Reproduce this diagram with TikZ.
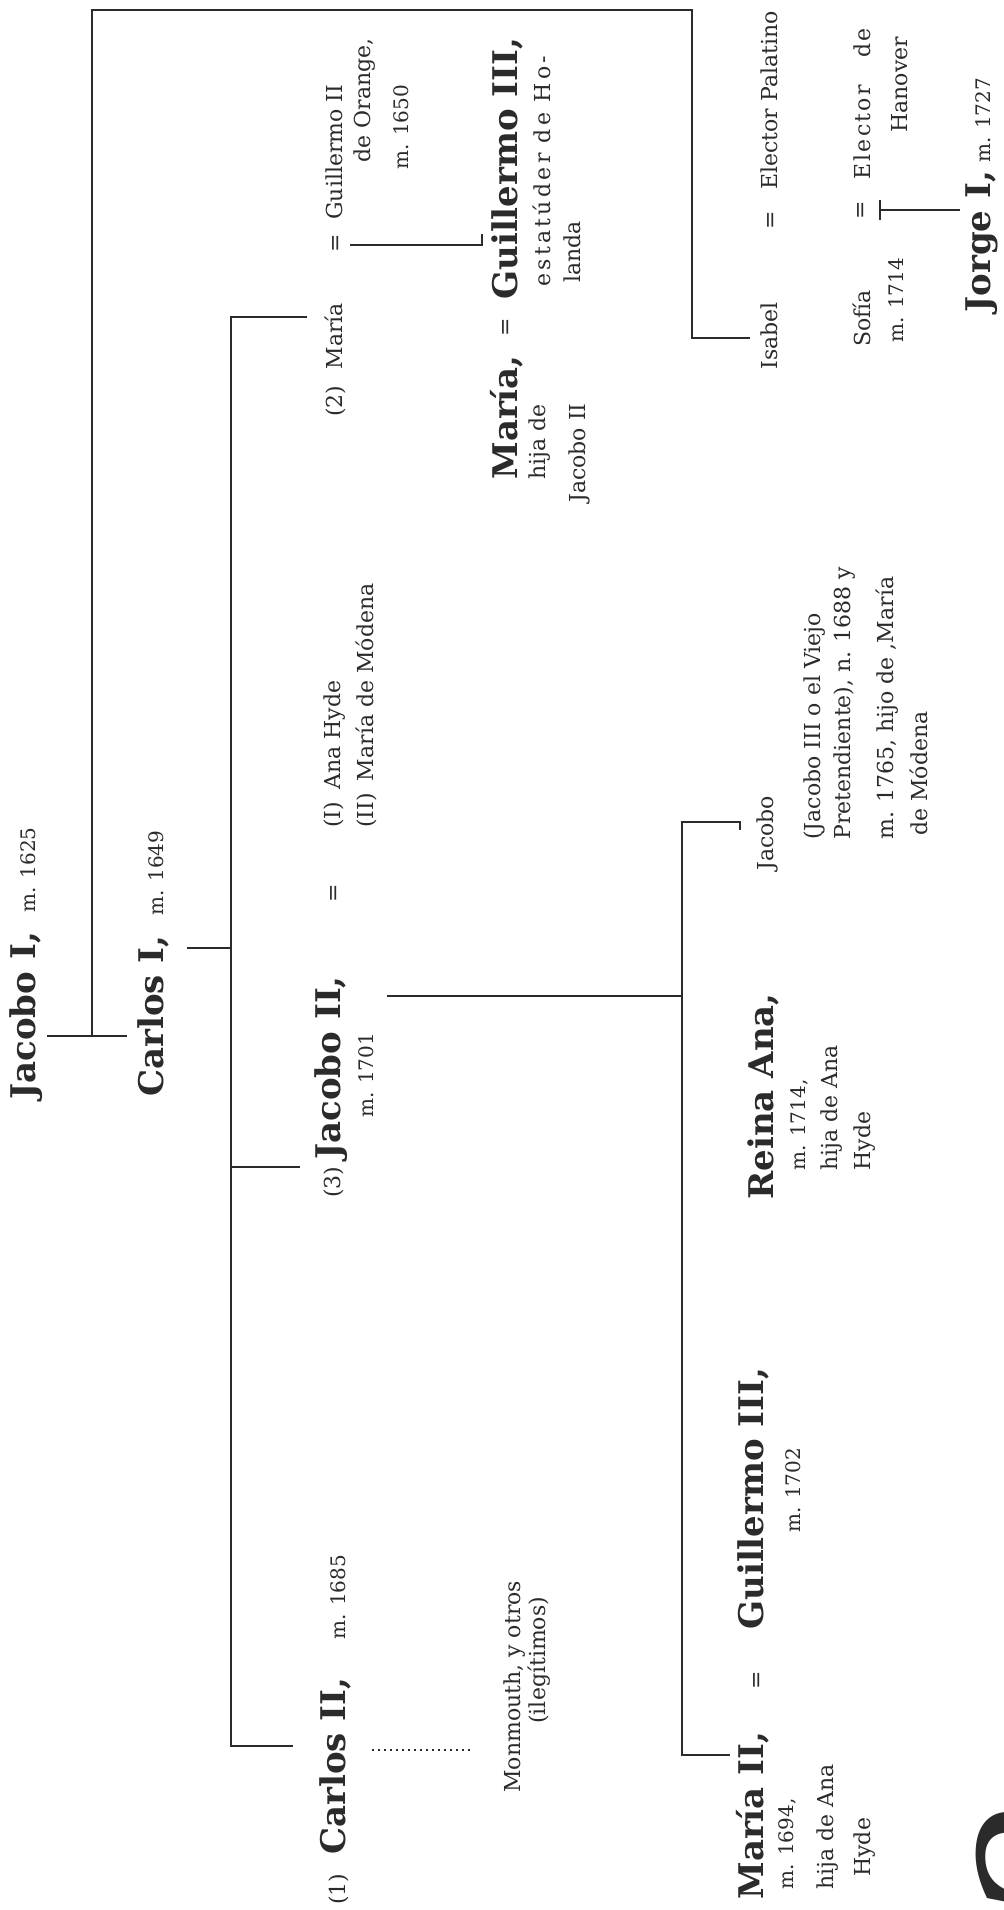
\documentclass[tikz,border=0pt]{standalone}
\usepackage{fontspec}
\setmainfont{DejaVu Serif}
\usepackage{tikz}
\usetikzlibrary{positioning}
\definecolor{tinta}{HTML}{2B2B2B}
\newcommand{\fechita}[1]{{\fontsize{10}{12}\selectfont\mdseries #1}}
\newcommand{\espaciada}[2]{{\addfontfeature{LetterSpace=#1}#2}}

\begin{document}
\begin{tikzpicture}[
    x=0.5pt, y=-0.5pt,
    every node/.style={inner sep=0pt, text=tinta},
    nombre/.style={rotate=90, anchor=base west, font=\fontsize{17}{19}\selectfont\bfseries},
    texto/.style={rotate=90, anchor=base west, font=\fontsize{11}{13}\selectfont},
    fecha/.style={rotate=90, anchor=base west, font=\fontsize{10}{12}\selectfont},
    rama/.style={draw=tinta, line width=1pt},
    ilegitimos/.style={draw=tinta, line width=1pt, dotted}
]
\fill[white] (0,0) rectangle (1004,1910);
\useasboundingbox (0,0) rectangle (1004,1910);

% Jacobo I y Carlos I
\node[nombre] (jacoboI) at (35,1100) {Jacobo I,\hspace{10pt}\fechita{m. 1625}};
\node[nombre] (carlosI) at (163,1097) {Carlos I,\hspace{10pt}\fechita{m. 1649}};

% hijos de Carlos I
\node[texto] (mariaDos) at (342,417) {(2)\hspace{8pt}María};
\node[texto] (igualMaria) at (342,253) {=};
\node[texto] (guillermoII) at (342,220) {Guillermo II};
\node[texto] (orange) at (370,163) {de Orange,};
\node[fecha] (mOrange) at (408,170) {m. 1650};

\node[texto] (tres) at (340,1198) {(3)};
\node[nombre] (jacoboII) at (340,1160) {Jacobo II,};
\node[texto] (igualJII) at (340,903) {=};
\node[texto] (anaHyde) at (340,828) {(I)\hspace{6pt}Ana Hyde};
\node[texto] (mariaModena) at (373,828) {(II)\hspace{6pt}María de Módena};
\node[fecha] (mJII) at (373,1118) {m. 1701};

\node[texto] (uno) at (345,1905) {(1)};
\node[nombre] (carlosII) at (345,1855) {Carlos II,};
\node[fecha] (mCII) at (345,1640) {m. 1685};
\node[texto] (monmouth) at (520,1793) {Monmouth, y otros};
\node[texto] (ilegit) at (545,1724) {(ilegítimos)};

% María y Guillermo III
\node[nombre] (mariaG) at (517,480) {María,};
\node[texto] (igualG) at (512,337) {=};
\node[nombre] (guillermoIII) at (517,300) {Guillermo III,};
\node[texto] (hijaJII) at (545,480) {hija de};
\node[texto] (deJII) at (585,503) {Jacobo II};
\node[texto] (estatuder) at (550,287) {\espaciada{15}{estatúder de Ho-}};
\node[texto] (landa) at (580,283) {landa};

% Isabel, Sofía, Jorge I
\node[texto] (isabel) at (777,370) {Isabel};
\node[texto] (igualI) at (777,230) {=};
\node[texto] (palatino) at (777,190) {Elector Palatino};
\node[texto] (sofia) at (870,347) {Sofía};
\node[texto] (igualS) at (867,220) {=};
\node[texto] (electorH) at (870,180) {\espaciada{10}{Elector\hspace{14pt}de}};
\node[fecha] (mSofia) at (903,343) {m. 1714};
\node[texto] (hanover) at (907,133) {Hanover};
\node[nombre] (jorgeI) at (990,313) {Jorge I,};
\node[fecha] (mJorge) at (990,163) {m. 1727};

% hijos de Jacobo II
\node[texto] (jacoboIII) at (773,871) {Jacobo};
\node[texto] (viejoA) at (820,840) {(Jacobo III o el Viejo};
\node[texto] (viejoB) at (850,840) {Pretendiente), n. 1688 y};
\node[texto] (viejoC) at (893,840) {m. 1765, hijo de ,María};
\node[texto] (viejoD) at (927,836) {de Módena};

\node[nombre] (reinaAna) at (773,1200) {Reina Ana,};
\node[fecha] (mAna) at (805,1171) {m. 1714,};
\node[texto] (hijaAna) at (837,1171) {hija de Ana};
\node[texto] (hydeAna) at (870,1171) {Hyde};

\node[nombre] (mariaII) at (763,1900) {María II,};
\node[texto] (igualMII) at (763,1690) {=};
\node[nombre] (guillermoIIIb) at (763,1630) {Guillermo III,};
\node[fecha] (mGIII) at (800,1533) {m. 1702};
\node[fecha] (mMII) at (793,1890) {m. 1694,};
\node[texto] (hijaMII) at (833,1890) {hija de Ana};
\node[texto] (hydeMII) at (870,1877) {Hyde};

\node[rotate=90, anchor=north, font=\fontsize{100}{100}\selectfont\itshape] (pagina) at (976,1862) {2};

% ramas
\coordinate (barraJ) at (92,1036);
\coordinate (esquinaJ) at (92,10);
\coordinate (esquinaI) at (692,10);
\coordinate (codoI) at (692,338);
\coordinate (llegaI) at (750,338);
\draw[rama] (barraJ) -- (esquinaJ) -- (esquinaI) -- (codoI) -- (llegaI);
\coordinate (saleJ) at (47,1036);
\coordinate (llegaC) at (127,1036);
\draw[rama] (saleJ) -- (llegaC);

\coordinate (saleC) at (187,948);
\coordinate (barraC) at (231,948);
\draw[rama] (saleC) -- (barraC);
\coordinate (arribaC) at (231,317);
\coordinate (llegaDos) at (307,317);
\coordinate (abajoC) at (231,1746);
\coordinate (llegaUno) at (293,1746);
\draw[rama] (llegaDos) -- (arribaC) -- (abajoC) -- (llegaUno);
\coordinate (barraTres) at (231,1167);
\coordinate (llegaTres) at (300,1167);
\draw[rama] (barraTres) -- (llegaTres);
\coordinate (saleMon) at (372,1750);
\coordinate (llegaMon) at (470,1750);
\draw[ilegitimos] (saleMon) -- (llegaMon);

\coordinate (saleGII) at (350,245);
\coordinate (llegaGIII) at (482,245);
\draw[rama] (saleGII) -- (llegaGIII) -- ++(0,-11);

\coordinate (saleJII) at (387,996);
\coordinate (barraJII) at (682,996);
\draw[rama] (saleJII) -- (barraJII);
\coordinate (llegaJIII) at (740,822);
\coordinate (arribaJII) at (682,822);
\coordinate (abajoJII) at (682,1755);
\coordinate (llegaMII) at (730,1755);
\draw[rama] ([yshift=-4pt]llegaJIII) -- (llegaJIII) -- (arribaJII) -- (abajoJII) -- (llegaMII);

\coordinate (saleS) at (880,210);
\coordinate (llegaJorge) at (960,210);
\draw[rama] ([yshift=5pt]saleS) -- ([yshift=-5pt]saleS);
\draw[rama] (saleS) -- (llegaJorge);
\end{tikzpicture}
\end{document}
